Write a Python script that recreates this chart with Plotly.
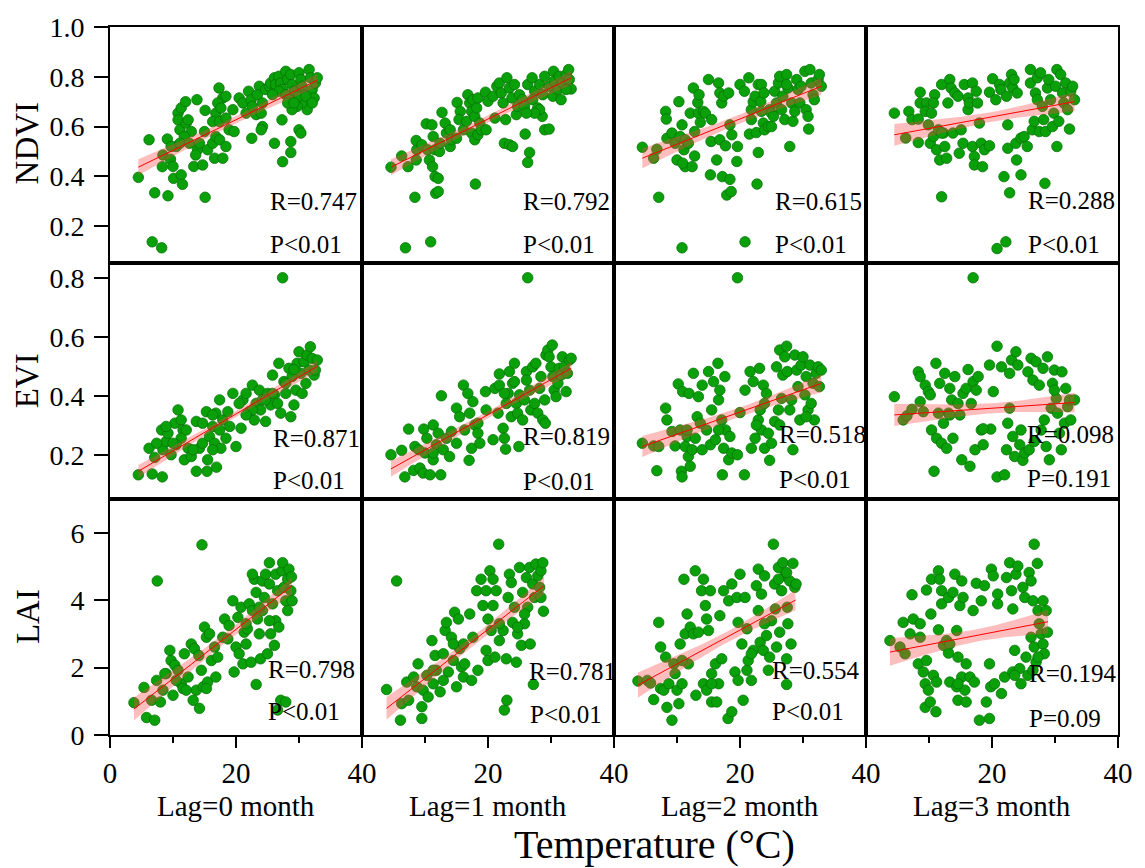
import numpy as np
import plotly.graph_objects as go
from plotly.subplots import make_subplots

# ---------------- data (temperature °C, index value) ----------------
ndvi_lag0 = [(4.5,0.396),(6.2,0.547),(7.1,0.334),(9.2,0.322),(6.7,0.137),(8.2,0.113),(8.3,0.439),(8.4,0.486),(9.1,0.55),(9.6,0.469),
 (10.0,0.44),(10.1,0.392),(11.3,0.406),(11.5,0.368),(10.8,0.654),(11.3,0.675),(12.0,0.70),(13.8,0.708),(10.8,0.627),(11.1,0.587),
 (12.1,0.614),(12.4,0.627),(12.9,0.58),(11.8,0.56),(10.5,0.52),(9.7,0.52),(11.1,0.533),(12.6,0.533),(13.3,0.44),(14.7,0.446),
 (15.1,0.316),(13.9,0.507),(13.6,0.486),(14.2,0.533),(15.1,0.665),(15.0,0.58),(15.5,0.507),(16.3,0.533),(16.6,0.473),(17.9,0.473),
 (16.8,0.56),(17.4,0.547),(18.4,0.52),(17.3,0.755),(17.9,0.715),(18.4,0.722),(17.1,0.695),(16.8,0.654),(17.6,0.675),(16.3,0.62),
 (17.4,0.62),(18.4,0.634),(19.5,0.668),(18.9,0.587),(19.7,0.58),(20.5,0.715),(21.1,0.695),(21.6,0.654),(22.0,0.742),(22.4,0.708),
 (22.6,0.681),(22.5,0.553),(23.2,0.648),(23.7,0.762),(23.4,0.728),(24.2,0.695),(24.0,0.654),(24.2,0.60),(24.0,0.587),(24.7,0.749),
 (25.3,0.762),(25.5,0.775),(26.1,0.796),(26.3,0.769),(26.8,0.802),(27.1,0.775),(27.4,0.749),(27.9,0.822),(28.2,0.789),(28.7,0.809),
 (28.9,0.769),(29.2,0.742),(29.5,0.708),(30.0,0.816),(30.3,0.789),(30.5,0.762),(30.8,0.728),(31.1,0.695),(31.3,0.668),(31.6,0.829),
 (31.8,0.796),(32.1,0.749),(32.6,0.775),(32.9,0.796),(32.4,0.715),(30.5,0.695),(29.7,0.681),(28.9,0.668),(26.1,0.533),(27.4,0.459),
 (27.3,0.627),(28.7,0.54),(28.7,0.496),(30.0,0.587),(30.3,0.574),(26.8,0.742),(25.8,0.728),(27.9,0.728),(28.4,0.708),(30.0,0.722),
 (31.1,0.722),(32.1,0.695),(28.2,0.695),(29.2,0.695)]

ndvi_lag1 = [(4.6,0.437),(6.3,0.482),(7.3,0.439),(8.4,0.316),(6.9,0.113),(10.9,0.137),(8.6,0.466),(8.7,0.507),(8.6,0.544),(9.5,0.527),
 (10.2,0.611),(11.1,0.607),(10.4,0.507),(11.3,0.56),(11.6,0.507),(10.7,0.466),(11.2,0.439),(11.6,0.399),(12.1,0.392),(11.7,0.332),
 (12.1,0.339),(12.3,0.50),(12.4,0.533),(12.7,0.657),(13.2,0.614),(13.4,0.574),(14.0,0.587),(14.0,0.52),(14.2,0.547),(15.0,0.553),
 (15.1,0.697),(15.6,0.661),(15.4,0.628),(16.1,0.587),(16.6,0.621),(16.8,0.728),(17.1,0.695),(17.4,0.661),(17.6,0.708),(17.9,0.641),
 (18.2,0.675),(18.4,0.715),(17.4,0.574),(17.9,0.547),(18.4,0.567),(18.0,0.369),(18.7,0.614),(18.9,0.587),(19.6,0.738),(19.7,0.587),
 (20.0,0.702),(20.8,0.722),(21.1,0.634),(21.4,0.762),(21.8,0.775),(22.1,0.735),(22.4,0.695),(22.8,0.628),(22.6,0.533),(23.4,0.527),
 (23.9,0.52),(23.0,0.796),(23.4,0.755),(23.8,0.715),(24.2,0.769),(24.5,0.648),(24.7,0.681),(25.0,0.728),(25.5,0.708),(25.8,0.681),
 (25.9,0.57),(26.6,0.496),(26.3,0.456),(26.3,0.769),(27.0,0.796),(27.4,0.742),(27.1,0.708),(27.9,0.675),(28.2,0.769),(28.7,0.728),
 (28.6,0.641),(29.0,0.802),(29.0,0.587),(29.7,0.59),(29.7,0.762),(30.3,0.722),(30.4,0.822),(30.5,0.782),(31.1,0.749),(31.3,0.802),
 (31.6,0.708),(31.8,0.775),(32.4,0.809),(32.8,0.829),(32.9,0.789),(33.2,0.751),(32.4,0.749),(28.2,0.668),(27.4,0.654),(26.1,0.654)]

ndvi_lag2 = [(4.5,0.517),(6.3,0.473),(6.8,0.509),(7.1,0.316),(10.8,0.113),(20.8,0.137),(8.2,0.661),(8.3,0.63),(10.3,0.70),(8.4,0.553),
 (9.2,0.574),(9.7,0.533),(10.0,0.466),(10.5,0.56),(10.8,0.607),(11.3,0.547),(11.1,0.507),(11.3,0.439),(10.9,0.453),(12.4,0.439),
 (11.8,0.533),(12.1,0.654),(12.6,0.755),(12.8,0.58),(12.8,0.482),(13.3,0.697),(13.5,0.728),(13.7,0.617),(13.4,0.654),(14.2,0.661),
 (14.5,0.654),(15.0,0.789),(15.3,0.406),(15.4,0.54),(15.5,0.628),(16.3,0.466),(16.6,0.775),(16.8,0.735),(16.8,0.547),(17.1,0.695),
 (17.2,0.399),(17.4,0.722),(17.7,0.523),(17.9,0.325),(18.2,0.735),(18.4,0.607),(18.4,0.388),(18.6,0.339),(18.7,0.567),(19.5,0.46),
 (19.6,0.52),(20.0,0.769),(20.7,0.742),(21.4,0.796),(21.8,0.668),(21.8,0.628),(21.5,0.57),(22.1,0.70),(22.4,0.722),(22.6,0.576),
 (22.7,0.369),(22.9,0.496),(22.9,0.769),(23.4,0.769),(23.3,0.70),(23.8,0.735),(23.7,0.614),(23.9,0.587),(24.5,0.60),(24.7,0.668),
 (25.0,0.654),(25.3,0.641),(25.5,0.742),(25.8,0.695),(26.1,0.775),(26.3,0.802),(26.6,0.668),(26.8,0.722),(27.1,0.628),(27.4,0.809),
 (27.6,0.755),(27.9,0.52),(28.2,0.695),(28.4,0.621),(28.7,0.661),(29.0,0.789),(29.2,0.749),(29.5,0.695),(29.7,0.762),(30.3,0.822),
 (30.5,0.668),(30.9,0.59),(30.8,0.641),(31.1,0.829),(31.3,0.775),(31.6,0.728),(31.8,0.708),(32.4,0.789),(32.6,0.809),(32.9,0.762),
 (27.4,0.769),(25.0,0.60),(23.4,0.661)]

ndvi_lag3 = [(4.5,0.654),(6.3,0.554),(6.8,0.661),(7.3,0.628),(8.3,0.63),(8.3,0.536),(8.6,0.738),(8.6,0.695),(9.6,0.695),(9.4,0.661),
 (9.9,0.607),(10.2,0.533),(10.4,0.654),(10.7,0.56),(10.9,0.728),(11.2,0.507),(11.5,0.587),(11.7,0.466),(12.0,0.318),(12.0,0.769),
 (12.3,0.574),(12.5,0.52),(12.8,0.473),(13.0,0.695),(13.3,0.789),(13.5,0.755),(13.8,0.574),(14.1,0.735),(14.6,0.722),(14.8,0.493),
 (15.1,0.587),(15.4,0.533),(15.6,0.769),(16.2,0.715),(16.2,0.668),(16.4,0.695),(16.9,0.775),(16.9,0.52),(17.2,0.48),(17.2,0.446),
 (17.5,0.742),(17.7,0.695),(18.0,0.614),(18.3,0.533),(18.5,0.439),(18.8,0.507),(19.6,0.523),(19.6,0.738),(20.1,0.792),(20.6,0.708),
 (21.2,0.769),(21.4,0.749),(21.9,0.399),(22.3,0.722),(22.5,0.513),(22.5,0.607),(22.8,0.334),(22.8,0.775),(23.1,0.809),(23.3,0.755),
 (23.5,0.789),(23.8,0.533),(23.9,0.466),(24.0,0.735),(24.6,0.406),(24.6,0.554),(25.1,0.56),(25.6,0.52),(26.1,0.829),(26.1,0.775),
 (26.4,0.587),(26.7,0.621),(26.9,0.735),(27.2,0.796),(27.2,0.708),(27.5,0.58),(27.7,0.816),(28.0,0.681),(28.2,0.628),(28.4,0.372),
 (28.5,0.58),(28.8,0.755),(29.0,0.789),(29.3,0.708),(29.6,0.60),(29.8,0.654),(30.1,0.762),(30.3,0.52),(30.3,0.829),(30.6,0.621),
 (30.9,0.809),(31.2,0.735),(31.4,0.695),(31.7,0.775),(32.0,0.668),(32.3,0.59),(32.5,0.742),(32.8,0.762),(33.1,0.708),(20.8,0.11),
 (22.2,0.137),(10.7,0.695),(12.0,0.574)]

evi_lag0 = [(4.5,0.132),(6.2,0.222),(6.7,0.135),(8.3,0.125),(7.1,0.191),(8.2,0.284),(8.4,0.217),(8.9,0.245),(9.2,0.273),(9.7,0.20),
 (10.3,0.307),(10.8,0.352),(11.3,0.318),(11.6,0.284),(11.3,0.256),(10.5,0.234),(11.8,0.183),(12.4,0.222),(12.9,0.194),(13.7,0.144),
 (13.7,0.313),(14.2,0.222),(14.7,0.239),(15.3,0.346),(15.4,0.144),(15.8,0.262),(16.3,0.296),(16.6,0.239),(16.8,0.341),(16.9,0.158),
 (17.4,0.386),(17.6,0.222),(17.9,0.318),(18.4,0.256),(18.7,0.346),(19.5,0.408),(20.0,0.228),(20.8,0.29),(21.1,0.386),(21.6,0.408),
 (22.1,0.346),(22.6,0.436),(22.9,0.318),(23.2,0.374),(23.7,0.419),(23.9,0.352),(24.2,0.386),(24.7,0.313),(25.0,0.408),(25.5,0.369),
 (25.8,0.47),(26.1,0.403),(26.6,0.374),(26.8,0.51),(27.1,0.341),(27.4,0.80),(27.6,0.448),(27.9,0.408),(28.4,0.493),(28.7,0.329),
 (28.9,0.465),(29.2,0.369),(29.5,0.419),(29.7,0.51),(30.0,0.549),(30.3,0.476),(30.5,0.408),(30.8,0.515),(31.1,0.442),(31.3,0.538),
 (31.6,0.487),(31.8,0.566),(32.1,0.526),(32.4,0.47),(32.9,0.521),(32.6,0.487),(29.2,0.489),(27.9,0.442),(25.8,0.408),(24.7,0.386),
 (22.6,0.352),(21.6,0.335),(20.5,0.374),(19.0,0.296),(17.4,0.284),(16.3,0.217),(15.5,0.183),(13.2,0.217),(12.1,0.284),(10.0,0.239),
 (8.9,0.296),(7.4,0.239),(16.3,0.335),(14.7,0.307)]

evi_lag1 = [(4.6,0.20),(6.3,0.215),(6.8,0.125),(7.4,0.287),(8.2,0.147),(8.4,0.228),(9.2,0.155),(9.7,0.138),(9.8,0.287),(10.0,0.206),
 (10.3,0.256),(10.8,0.132),(11.3,0.301),(11.3,0.183),(11.8,0.234),(12.1,0.273),(12.5,0.132),(12.6,0.40),(12.9,0.217),(13.4,0.256),
 (13.9,0.194),(14.2,0.279),(15.0,0.358),(15.0,0.239),(15.5,0.329),(16.1,0.436),(16.3,0.284),(16.8,0.408),(17.0,0.181),(17.1,0.341),
 (17.4,0.222),(17.6,0.38),(17.9,0.301),(18.4,0.273),(18.7,0.239),(19.6,0.414),(19.7,0.352),(20.8,0.251),(21.1,0.425),(21.6,0.341),
 (21.8,0.436),(21.8,0.474),(22.4,0.29),(22.6,0.256),(22.8,0.219),(22.9,0.374),(23.2,0.408),(23.4,0.482),(23.7,0.329),(23.9,0.442),
 (24.2,0.51),(24.5,0.374),(24.7,0.341),(24.9,0.228),(25.0,0.403),(25.5,0.318),(25.8,0.386),(26.1,0.482),(26.1,0.453),(26.6,0.419),
 (26.8,0.352),(27.1,0.498),(27.4,0.374),(27.6,0.51),(27.9,0.341),(28.2,0.425),(28.4,0.465),(28.7,0.318),(29.1,0.307),(29.0,0.386),
 (29.2,0.538),(29.5,0.555),(29.7,0.532),(30.0,0.498),(30.2,0.572),(30.3,0.465),(30.5,0.419),(30.8,0.397),(31.1,0.442),(31.3,0.493),
 (31.6,0.47),(31.8,0.532),(32.1,0.498),(32.4,0.414),(32.6,0.476),(32.9,0.521),(33.2,0.527),(26.3,0.80),(24.2,0.448),(22.6,0.408),
 (18.4,0.307),(11.3,0.206),(9.0,0.217)]

evi_lag2 = [(4.5,0.239),(6.3,0.23),(7.1,0.228),(6.8,0.146),(8.2,0.358),(8.4,0.318),(9.2,0.279),(9.7,0.23),(10.2,0.44),(10.5,0.284),
 (10.7,0.144),(10.8,0.125),(10.9,0.414),(11.3,0.228),(11.6,0.262),(11.8,0.194),(11.9,0.408),(12.1,0.161),(12.4,0.217),(12.6,0.476),
 (12.9,0.256),(13.2,0.329),(13.4,0.397),(13.7,0.307),(14.0,0.436),(14.0,0.217),(14.7,0.284),(15.0,0.482),(15.3,0.234),(15.5,0.352),
 (15.8,0.448),(16.1,0.251),(16.5,0.51),(16.6,0.386),(16.8,0.419),(17.1,0.318),(17.2,0.132),(17.4,0.222),(17.6,0.465),(17.7,0.284),
 (18.2,0.183),(18.4,0.262),(18.7,0.206),(19.6,0.80),(19.6,0.20),(20.0,0.343),(20.7,0.132),(20.8,0.419),(21.6,0.482),(21.8,0.222),
 (22.1,0.448),(22.4,0.256),(22.9,0.318),(23.1,0.493),(23.2,0.352),(23.4,0.284),(23.7,0.436),(23.9,0.374),(23.9,0.222),(24.2,0.408),
 (24.5,0.273),(24.7,0.181),(25.0,0.239),(25.5,0.313),(25.8,0.498),(26.1,0.352),(26.3,0.555),(26.6,0.391),(26.8,0.47),(27.1,0.532),
 (27.4,0.568),(27.5,0.482),(27.9,0.352),(28.2,0.386),(28.4,0.217),(28.7,0.538),(29.0,0.487),(29.2,0.431),(29.5,0.318),(29.7,0.504),
 (30.0,0.532),(30.3,0.403),(30.5,0.465),(30.8,0.352),(31.1,0.504),(31.3,0.374),(31.6,0.442),(31.8,0.318),(32.1,0.476),(32.4,0.498),
 (32.6,0.431),(32.9,0.487),(30.5,0.329),(26.3,0.301),(22.6,0.301),(16.6,0.284),(11.6,0.284)]

evi_lag3 = [(4.5,0.397),(5.9,0.318),(6.5,0.332),(7.3,0.354),(8.3,0.481),(8.6,0.465),(8.6,0.38),(9.1,0.346),(9.4,0.436),(9.9,0.414),
 (10.2,0.403),(10.4,0.284),(10.8,0.144),(11.1,0.51),(11.2,0.256),(11.5,0.341),(11.7,0.442),(12.0,0.239),(12.3,0.307),(12.5,0.476),
 (12.8,0.222),(13.1,0.341),(13.3,0.425),(13.6,0.386),(13.8,0.256),(14.1,0.465),(14.6,0.374),(14.9,0.335),(15.2,0.183),(15.4,0.408),
 (15.9,0.425),(16.2,0.489),(16.5,0.161),(16.7,0.374),(17.0,0.80),(17.0,0.448),(17.3,0.217),(17.5,0.419),(17.8,0.465),(18.3,0.284),
 (18.6,0.234),(19.6,0.504),(19.8,0.287),(20.2,0.414),(20.8,0.568),(20.8,0.125),(21.5,0.498),(22.0,0.132),(22.3,0.217),(22.5,0.307),
 (22.8,0.476),(23.1,0.521),(23.3,0.262),(23.6,0.194),(23.8,0.549),(24.1,0.504),(24.4,0.234),(24.6,0.284),(24.9,0.181),(25.2,0.206),
 (25.7,0.481),(25.9,0.217),(26.2,0.527),(26.5,0.453),(26.7,0.245),(27.0,0.515),(27.5,0.436),(27.8,0.284),(28.1,0.493),(28.3,0.318),
 (28.6,0.228),(28.8,0.532),(29.1,0.183),(29.4,0.358),(29.6,0.442),(29.9,0.487),(30.2,0.391),(30.4,0.341),(30.7,0.273),(31.0,0.217),
 (31.1,0.481),(31.5,0.307),(31.7,0.425),(32.0,0.363),(32.3,0.386),(32.5,0.318),(33.1,0.386),(18.6,0.288),(22.8,0.358),(13.3,0.335),
 (29.9,0.419)]

lai_lag0 = [(3.8,0.96),(5.4,1.41),(5.8,0.52),(7.1,0.44),(7.5,4.57),(6.6,1.03),(7.4,1.62),(8.0,0.98),(8.4,1.33),(8.9,1.82),
 (9.5,2.51),(9.7,2.21),(10.0,1.18),(10.3,2.07),(10.8,1.92),(11.3,1.52),(11.6,1.38),(11.8,2.41),(12.4,1.72),(12.9,2.70),
 (13.2,1.03),(13.4,2.56),(13.7,1.33),(14.1,2.36),(14.2,0.79),(14.5,1.92),(14.6,5.64),(14.8,1.43),(15.0,3.20),(15.3,2.90),
 (15.5,1.57),(15.8,3.00),(16.1,2.21),(16.6,2.61),(17.1,2.31),(17.9,2.90),(18.2,3.44),(18.7,2.85),(18.9,3.25),(19.5,3.98),
 (19.7,1.87),(20.0,2.61),(20.3,3.49),(20.5,2.41),(20.8,3.79),(21.1,2.11),(21.3,3.05),(21.6,2.70),(21.8,3.15),(22.1,3.89),
 (22.4,2.16),(22.6,3.69),(22.9,4.62),(23.2,1.50),(23.2,4.23),(23.4,3.44),(23.7,3.00),(23.9,2.26),(24.2,4.57),(24.5,4.08),
 (24.7,4.77),(25.0,2.41),(25.3,5.11),(25.3,4.48),(25.5,3.00),(25.8,3.89),(26.1,2.66),(26.3,4.77),(26.3,3.39),(26.6,4.28),
 (26.8,3.20),(27.1,1.03),(27.3,4.87),(27.4,5.11),(27.6,4.38),(27.9,3.98),(28.2,4.62),(28.2,3.69),(28.4,4.92),(28.7,4.28),
 (28.8,4.69),(28.9,3.98),(27.9,0.98),(26.6,0.74),(22.6,4.77),(24.2,3.69),(25.3,3.39),(23.7,3.79),(21.6,3.30),(16.8,1.72),
 (15.3,1.38),(12.1,1.33),(10.5,1.62),(8.7,1.82)]

lai_lag1 = [(3.9,1.35),(5.5,4.57),(6.1,0.44),(6.3,0.93),(7.1,1.57),(7.4,1.03),(8.2,1.72),(8.7,1.43),(8.9,2.11),(9.5,0.84),
 (9.5,0.49),(9.7,1.33),(10.3,1.77),(10.5,1.13),(11.1,2.80),(11.3,1.52),(11.6,2.36),(11.8,1.92),(12.4,1.28),(12.9,2.41),
 (13.2,3.10),(13.4,3.34),(13.7,1.87),(14.2,2.90),(14.5,2.21),(14.7,3.64),(15.0,1.43),(15.3,3.44),(15.5,2.56),(15.8,2.02),
 (16.1,1.72),(16.3,2.11),(17.1,3.59),(17.4,1.62),(17.6,2.90),(18.2,4.28),(18.4,1.92),(18.9,4.62),(19.2,3.84),(19.7,4.28),
 (20.0,3.44),(20.0,2.21),(20.3,4.87),(20.5,3.10),(20.8,4.62),(20.8,3.84),(21.1,2.31),(21.3,4.28),(21.7,5.66),(21.8,2.80),
 (22.4,3.10),(22.6,0.74),(22.9,2.26),(23.0,1.03),(23.2,4.08),(23.4,4.77),(23.7,4.52),(23.9,3.34),(24.2,3.79),(24.5,2.16),
 (24.7,3.00),(25.0,4.97),(25.3,2.66),(25.5,4.23),(25.8,3.30),(26.1,4.67),(26.3,3.79),(26.6,4.97),(26.7,2.70),(27.1,4.48),
 (27.2,1.50),(27.4,4.08),(27.6,5.07),(27.9,4.72),(28.2,4.38),(28.4,4.87),(28.7,5.11),(28.8,3.67),(28.4,4.08),(25.8,3.59),
 (24.7,3.20),(21.8,3.30),(19.7,2.51),(16.1,2.70),(14.5,2.70),(12.9,1.62),(11.3,1.92)]

lai_lag2 = [(3.8,1.60),(5.3,1.62),(5.8,1.54),(6.3,1.05),(7.1,3.34),(7.4,2.61),(7.4,1.38),(7.9,1.33),(8.2,2.31),(8.4,0.82),
 (8.7,1.52),(9.2,0.44),(9.5,2.11),(9.7,1.82),(10.0,1.33),(10.3,0.93),(10.5,2.70),(10.8,1.52),(11.1,4.62),(11.3,3.00),
 (11.6,3.59),(11.8,2.11),(12.1,3.20),(12.6,3.00),(12.9,4.87),(13.0,1.18),(13.4,3.05),(13.9,4.28),(14.2,4.62),(14.2,1.52),
 (14.5,3.84),(14.7,3.44),(14.7,1.33),(15.0,3.10),(15.3,4.28),(15.5,1.82),(15.5,0.98),(16.1,2.11),(16.3,0.98),(16.6,1.52),
 (16.8,3.54),(17.1,2.26),(17.4,4.28),(18.1,0.49),(18.2,3.98),(18.7,0.69),(18.7,4.48),(19.2,1.87),(19.5,4.08),(19.7,3.34),
 (19.7,1.62),(20.0,4.77),(20.3,2.70),(20.5,1.03),(20.8,4.08),(21.1,3.15),(21.1,1.92),(21.3,2.21),(21.8,1.62),(22.1,2.51),
 (22.6,4.43),(22.9,4.92),(22.9,3.69),(23.2,2.75),(23.4,4.18),(23.7,2.51),(23.9,4.72),(24.2,2.95),(24.5,1.92),(24.7,2.31),
 (25.0,3.39),(25.3,5.66),(25.5,4.48),(25.6,3.74),(25.8,2.61),(26.1,4.97),(26.3,3.05),(26.6,4.28),(26.8,5.11),(27.1,4.72),
 (27.4,2.26),(27.4,1.50),(27.5,3.79),(27.6,3.30),(27.9,4.57),(28.1,2.70),(28.4,5.09),(28.7,4.38),(28.9,4.48),(27.4,4.82),
 (26.1,4.62),(23.9,3.30),(21.8,2.41),(15.5,1.52),(10.8,2.21)]

lai_lag3 = [(3.8,2.80),(5.4,2.61),(6.2,2.41),(5.9,3.34),(7.3,4.16),(7.5,3.44),(7.0,3.00),(8.3,2.11),(8.6,3.30),(8.6,2.90),
 (9.1,1.87),(9.4,1.52),(9.4,0.82),(9.6,4.30),(9.6,2.21),(9.9,1.33),(10.2,0.98),(10.3,3.59),(10.4,4.62),(10.7,1.77),
 (11.1,0.69),(11.2,1.57),(11.5,4.87),(11.5,3.12),(11.7,4.62),(12.0,4.28),(12.0,3.89),(12.3,2.66),(12.8,2.80),(13.1,2.43),
 (13.1,4.08),(13.3,1.57),(13.8,4.23),(14.1,4.77),(14.4,3.10),(14.4,1.43),(14.6,2.31),(14.6,1.03),(14.9,3.84),(15.2,4.57),
 (15.2,1.72),(15.4,4.08),(15.7,1.33),(15.9,2.11),(15.9,0.98),(16.5,1.72),(17.0,3.69),(17.2,1.57),(17.5,4.50),(18.0,0.44),
 (18.3,3.98),(18.8,4.43),(19.1,0.98),(19.6,2.11),(19.6,0.49),(19.8,1.43),(19.9,4.92),(20.2,4.72),(20.4,1.52),(20.9,3.89),
 (20.9,4.18),(21.5,1.23),(22.0,1.72),(22.3,4.67),(22.8,5.11),(23.1,4.28),(23.3,3.74),(23.3,1.87),(23.6,2.51),(23.8,4.77),
 (24.1,5.01),(24.4,1.97),(24.6,1.52),(24.9,4.38),(25.2,4.08),(25.4,2.31),(25.7,1.77),(25.9,4.82),(26.2,4.57),(26.2,2.90),
 (26.5,3.98),(26.7,5.66),(26.7,2.61),(27.0,2.16),(27.2,5.09),(27.3,3.69),(27.5,3.30),(27.8,3.00),(28.1,2.70),(28.3,2.41),
 (28.6,3.69),(28.8,3.05),(28.1,3.98),(27.3,2.31),(26.5,1.92),(23.6,1.77),(14.6,1.52),(13.3,2.70)]

# fitted regression lines: (x_start, y_start, x_end, y_end)
fit_ndvi = [(4.5, 0.437, 32.9, 0.786), (4.6, 0.437, 33.2, 0.796), (4.5, 0.473, 32.9, 0.762), (4.5, 0.567, 33.1, 0.700)]
fit_evi = [(4.5, 0.144, 32.9, 0.500), (4.6, 0.152, 33.2, 0.493), (4.5, 0.228, 32.9, 0.442), (4.5, 0.335, 33.1, 0.377)]
fit_lai = [(3.8, 0.77, 28.9, 4.43), (3.9, 0.79, 28.9, 4.43), (3.8, 1.48, 28.8, 4.00), (3.8, 2.46, 28.9, 3.36)]
n_obs = 200  # approximate number of monthly samples per panel

row_names = ["NDVI", "EVI", "LAI"]
lag_labels = ["Lag=0 month", "Lag=1 month", "Lag=2 month", "Lag=3 month"]
panels = [[ndvi_lag0, ndvi_lag1, ndvi_lag2, ndvi_lag3],
          [evi_lag0, evi_lag1, evi_lag2, evi_lag3],
          [lai_lag0, lai_lag1, lai_lag2, lai_lag3]]
fits = [fit_ndvi, fit_evi, fit_lai]
r_text = [["R=0.747", "R=0.792", "R=0.615", "R=0.288"],
          ["R=0.871", "R=0.819", "R=0.518", "R=0.098"],
          ["R=0.798", "R=0.781", "R=0.554", "R=0.194"]]
p_text = [["P<0.01", "P<0.01", "P<0.01", "P<0.01"],
          ["P<0.01", "P<0.01", "P<0.01", "P=0.191"],
          ["P<0.01", "P<0.01", "P<0.01", "P=0.09"]]

# ---------------- layout helpers (positions / styles) ----------------
y_ranges = [[0.052, 1.0], [0.05, 0.85], [0.0, 7.0]]
y_ticks = [[0.2, 0.4, 0.6, 0.8, 1.0], [0.2, 0.4, 0.6, 0.8], [0, 2, 4, 6]]
y_ticktext = [["0.2", "0.4", "0.6", "0.8", "1.0"], ["0.2", "0.4", "0.6", "0.8"], ["0", "2", "4", "6"]]
r_pos = [[(25.1, 0.298), (25.2, 0.298), (25.2, 0.298), (25.4, 0.303)],
         [(25.5, 0.256), (25.3, 0.262), (25.8, 0.267), (25.2, 0.267)],
         [(24.7, 1.94), (26.2, 1.87), (24.7, 1.92), (25.6, 1.82)]]
p_pos = [[(25.1, 0.127), (25.2, 0.127), (25.2, 0.127), (25.4, 0.127)],
         [(25.5, 0.113), (25.3, 0.110), (25.8, 0.116), (25.2, 0.121)],
         [(24.7, 0.69), (26.3, 0.62), (24.7, 0.69), (25.6, 0.49)]]

FONT = "Liberation Serif, Times New Roman, serif"
PT_COLOR = "#0aa00a"

fig = make_subplots(rows=3, cols=4, horizontal_spacing=0, vertical_spacing=0)

for r in range(3):
    for c in range(4):
        pts = np.array(panels[r][c], dtype=float)
        x, y = pts[:, 0], pts[:, 1]
        fig.add_trace(go.Scatter(x=x, y=y, mode="markers",
                                 marker=dict(size=10.5, color=PT_COLOR,
                                             line=dict(width=0.8, color="#067306")),
                                 showlegend=False, hoverinfo="skip"),
                      row=r + 1, col=c + 1)
        # regression line + 95% confidence band
        x0, y0, x1, y1 = fits[r][c]
        slope = (y1 - y0) / (x1 - x0)
        xg = np.linspace(x0, x1, 60)
        yg = y0 + slope * (xg - x0)
        resid = y - (y0 + slope * (x - x0))
        s = np.sqrt(np.sum(resid ** 2) / (len(x) - 2))
        xm = x.mean()
        sxx = np.sum((x - xm) ** 2) * n_obs / len(x)
        half = 1.97 * s * np.sqrt(1.0 / n_obs + (xg - xm) ** 2 / sxx)
        fig.add_trace(go.Scatter(x=np.concatenate([xg, xg[::-1]]),
                                 y=np.concatenate([yg + half, (yg - half)[::-1]]),
                                 fill="toself", fillcolor="rgba(255,70,70,0.35)",
                                 line=dict(width=0), mode="lines",
                                 showlegend=False, hoverinfo="skip"),
                      row=r + 1, col=c + 1)
        fig.add_trace(go.Scatter(x=xg, y=yg, mode="lines",
                                 line=dict(color="#ff0000", width=1),
                                 showlegend=False, hoverinfo="skip"),
                      row=r + 1, col=c + 1)

        idx = r * 4 + c
        xa = "x" if idx == 0 else f"x{idx + 1}"
        ya = "y" if idx == 0 else f"y{idx + 1}"
        for txt, (px, py) in ((r_text[r][c], r_pos[r][c]), (p_text[r][c], p_pos[r][c])):
            fig.add_annotation(x=px, y=py, xref=xa, yref=ya, text=txt, showarrow=False,
                               xanchor="left", yanchor="middle",
                               font=dict(family=FONT, size=25, color="black"))

        bottom = (r == 2)
        left = (c == 0)
        fig.update_xaxes(range=[0, 40], showline=True, linewidth=2, linecolor="black", mirror=True,
                         showgrid=False, zeroline=False,
                         ticks="outside" if bottom else "", ticklen=11, tickwidth=2, tickcolor="black",
                         tickvals=[0, 20, 40],
                         ticktext=(["0", "20", "40"] if c == 0 else ["", "20", "40"]),
                         showticklabels=bottom,
                         tickfont=dict(family=FONT, size=29, color="black"),
                         minor=dict(tickvals=[10, 30], ticks="outside" if bottom else "",
                                    ticklen=6, tickwidth=2, tickcolor="black"),
                         row=r + 1, col=c + 1)
        fig.update_yaxes(range=y_ranges[r], showline=True, linewidth=2, linecolor="black", mirror=True,
                         showgrid=False, zeroline=False,
                         ticks="outside" if left else "", ticklen=14, tickwidth=2, tickcolor="black",
                         tickvals=y_ticks[r], ticktext=y_ticktext[r],
                         showticklabels=left, ticklabelstandoff=4,
                         tickfont=dict(family=FONT, size=28, color="black"),
                         row=r + 1, col=c + 1)

row_title_y = [0.836, 0.50, 0.167]
for name, yy in zip(row_names, row_title_y):
    fig.add_annotation(x=-0.082, y=yy, xref="paper", yref="paper", text=name, textangle=-90,
                       showarrow=False, xanchor="center", yanchor="middle",
                       font=dict(family=FONT, size=33, color="black"))

for i, lab in enumerate(lag_labels):
    fig.add_annotation(x=(i + 0.5) / 4, y=-0.1, xref="paper", yref="paper", text=lab,
                       showarrow=False, xanchor="center", yanchor="middle",
                       font=dict(family=FONT, size=29, color="black"))

fig.add_annotation(x=0.54, y=-0.155, xref="paper", yref="paper", text="Temperature (°C)",
                   showarrow=False, xanchor="center", yanchor="middle",
                   font=dict(family=FONT, size=40, color="black"))

fig.update_layout(width=1145, height=868, plot_bgcolor="white", paper_bgcolor="white",
                  margin=dict(l=110, r=19, t=24, b=133), showlegend=False,
                  font=dict(family=FONT, color="black"))

fig.write_html("out.html", config={"displayModeBar": False},
               post_script="document.body.style.margin='0';document.body.style.overflow='hidden';")
